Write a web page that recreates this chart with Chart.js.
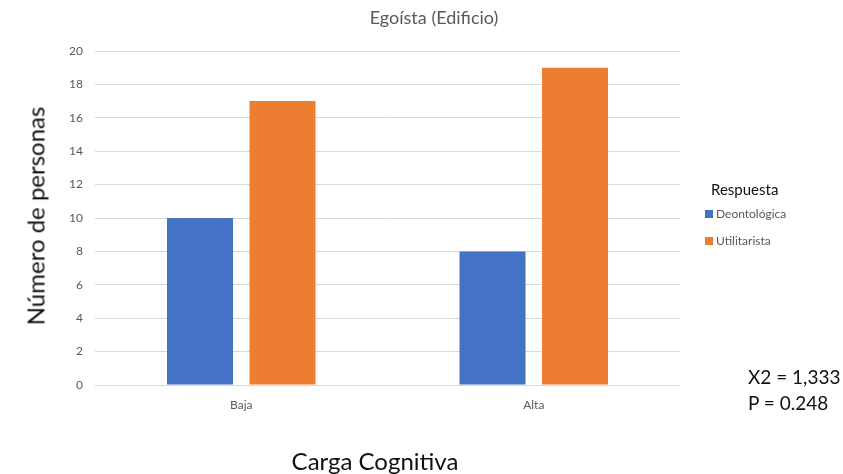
<!DOCTYPE html>
<html lang="es">
<head>
    <meta charset="UTF-8">
    <title>Egoísta (Edificio)</title>
    <script src="https://cdn.jsdelivr.net/npm/chart.js"></script>
    <style>
        body {
            margin: 0;
            background: #fff;
            font-family: Lato, "Open Sans", sans-serif;
        }
        .wrap {
            position: relative;
            width: 843px;
            height: 474px;
        }
        .title {
            position: absolute;
            left: 334px;
            width: 200px;
            top: 6px;
            text-align: center;
            font-size: 18px;
            color: #595959;
        }
        .y-title {
            position: absolute;
            left: 35px;
            top: 216px;
            transform: translate(-50%, -50%) rotate(-90deg);
            white-space: nowrap;
            font-size: 24px;
            color: #111;
        }
        .x-title {
            position: absolute;
            left: 275px;
            width: 200px;
            top: 446px;
            text-align: center;
            font-size: 24px;
            color: #111;
        }
        .legend {
            position: absolute;
            left: 705px;
            top: 180px;
            color: #595959;
            font-size: 12px;
        }
        .legend .head {
            font-size: 15px;
            color: #111;
            margin: 0 0 8px 6px;
        }
        .legend .item {
            height: 27px;
            line-height: 16px;
        }
        .legend .sw {
            display: inline-block;
            width: 8px;
            height: 8px;
            margin-right: 3px;
        }
        .stats {
            position: absolute;
            left: 748px;
            top: 364px;
            font-size: 19px;
            line-height: 26px;
            color: #111;
        }
    </style>
</head>
<body>
    <div class="wrap">
        <canvas id="chart" width="843" height="474"></canvas>
        <div class="title">Egoísta (Edificio)</div>
        <div class="y-title">Número de personas</div>
        <div class="x-title">Carga Cognitiva</div>
        <div class="legend" id="legend"></div>
        <div class="stats">X2 = 1,333<br>P = 0.248</div>
    </div>

    <script>
        const categories = ['Baja', 'Alta'];
        const deontologica = [10, 8];
        const utilitarista = [17, 19];
        const seriesNames = ['Deontológica', 'Utilitarista'];
        const seriesColors = ['#4472C4', '#ED7D31'];
        const legendTitle = 'Respuesta';

        // legend built from the same names/colours as the datasets
        const legend = document.getElementById('legend');
        legend.innerHTML = '<div class="head">' + legendTitle + '</div>' +
            seriesNames.map((n, i) =>
                `<div class="item"><span class="sw" style="background:${seriesColors[i]}"></span>${n}</div>`
            ).join('');

        new Chart(document.getElementById('chart'), {
            type: 'bar',
            data: {
                labels: categories,
                datasets: [
                    {
                        label: seriesNames[0],
                        data: deontologica,
                        backgroundColor: seriesColors[0]
                    },
                    {
                        label: seriesNames[1],
                        data: utilitarista,
                        backgroundColor: seriesColors[1]
                    }
                ]
            },
            options: {
                responsive: false,
                animation: false,
                categoryPercentage: 0.564,
                barPercentage: 0.8,
                layout: {
                    padding: { left: 0, right: 163, top: 51, bottom: 0 }
                },
                plugins: {
                    legend: { display: false },
                    title: { display: false },
                    tooltip: { enabled: false }
                },
                scales: {
                    x: {
                        grid: { display: false },
                        border: { display: false },
                        ticks: {
                            color: '#595959',
                            font: { family: 'Lato', size: 12 },
                            padding: 5
                        },
                        afterFit: s => { s.height = 89; }
                    },
                    y: {
                        min: 0,
                        max: 20,
                        ticks: {
                            stepSize: 2,
                            color: '#595959',
                            font: { family: 'Lato', size: 12 },
                            padding: 12
                        },
                        grid: {
                            color: '#d9d9d9',
                            lineWidth: 1,
                            drawTicks: false
                        },
                        border: { display: false },
                        afterFit: s => { s.width = 95; }
                    }
                }
            }
        });
    </script>
</body>
</html>
